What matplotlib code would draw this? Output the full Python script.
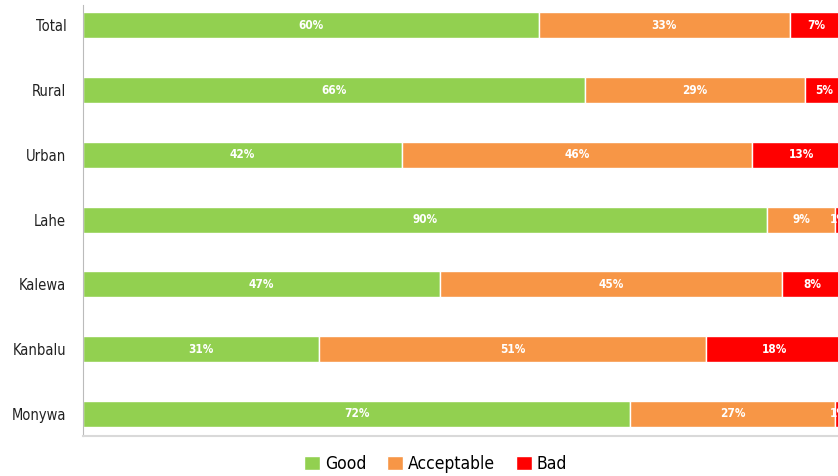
import matplotlib.pyplot as plt
import numpy as np

categories = ["Total", "Rural", "Urban", "Lahe", "Kalewa", "Kanbalu", "Monywa"]
good = [60, 66, 42, 90, 47, 31, 72]
acceptable = [33, 29, 46, 9, 45, 51, 27]
bad = [7, 5, 13, 1, 8, 18, 1]

series = {"Good": good, "Acceptable": acceptable, "Bad": bad}
colors = {"Good": "#92D050", "Acceptable": "#F79646", "Bad": "#FF0000"}

plt.rcParams['font.family'] = ['DejaVu Sans']
plt.rcParams['font.stretch'] = 'condensed'

fig = plt.figure(figsize=(8.38, 4.76), dpi=100)
ax = fig.add_axes([0.099, 0.084, 0.907, 0.905])

y = np.arange(len(categories))
left = np.zeros(len(categories))
for name, values in series.items():
    values = np.array(values, dtype=float)
    ax.barh(y, values, left=left, height=0.4, color=colors[name],
            edgecolor="white", linewidth=1, label=name)
    for yi, l, v in zip(y, left, values):
        ax.text(l + v / 2, yi, f"{int(v)}%", ha="center", va="center",
                color="white", fontsize=8.5, fontweight="bold")
    left += values

ax.set_yticks(y)
ax.set_yticklabels(categories, fontsize=10.5, color="#222222")
ax.set_ylim(len(categories) - 1 + 0.34, -0.31)
ax.set_xlim(0, 100)
ax.set_xticks([])
ax.tick_params(axis="y", length=0, pad=12)
for side in ["top", "right"]:
    ax.spines[side].set_visible(False)
ax.spines["left"].set_color("#BBBBBB")
ax.spines["bottom"].set_color("#D9D9D9")
ax.spines["bottom"].set_linewidth(1.5)

fig.legend(loc="center", bbox_to_anchor=(0.52, 0.025), ncol=3, frameon=False,
           fontsize=12.5, handlelength=0.9, handleheight=0.9, handletextpad=0.3,
           columnspacing=1.2)

fig.savefig("out.png", dpi=100)
